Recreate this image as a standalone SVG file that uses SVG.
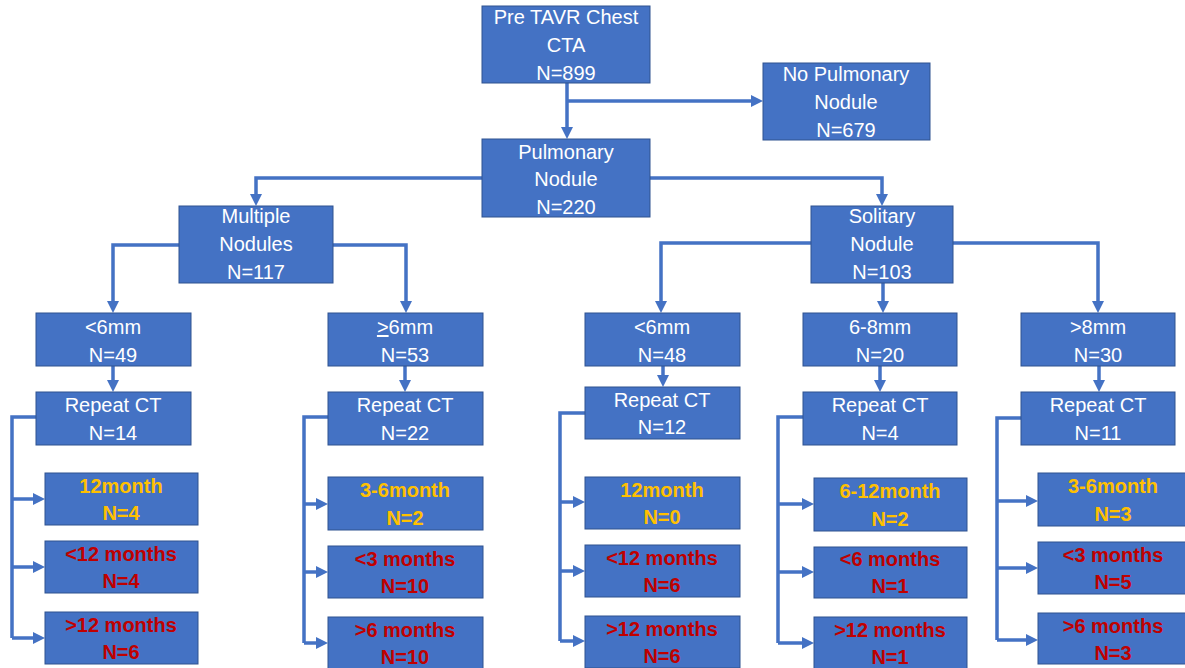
<svg xmlns="http://www.w3.org/2000/svg" width="1185" height="668" viewBox="0 0 1185 668">
<style>
.box{fill:#4472C4;stroke:#2F528F;stroke-width:1}
.t{font-family:"Liberation Sans",Arial,sans-serif;font-size:20px;fill:#FFFFFF;text-anchor:middle}
.y{font-family:"Liberation Sans",Arial,sans-serif;font-size:20px;font-weight:bold;fill:#FFC000;text-anchor:middle}
.r{font-family:"Liberation Sans",Arial,sans-serif;font-size:20px;font-weight:bold;fill:#C00000;text-anchor:middle}
.c{fill:none;stroke:#4472C4;stroke-width:3.5}
.a{marker-end:url(#arr)}
</style>
<defs>
<marker id="arr" markerUnits="userSpaceOnUse" markerWidth="12" markerHeight="12" refX="6" refY="6" orient="auto">
<path d="M0,0 L12,6 L0,12 z" fill="#4472C4"/>
</marker>
</defs>
<rect width="1185" height="668" fill="#FFFFFF"/>

<g id="connectors">
<path class="c a" d="M567,83 V133"/>
<path class="c a" d="M567,101 H757"/>
<path class="c a" d="M482,178 H256 V200"/>
<path class="c a" d="M650,178 H882 V200"/>
<path class="c a" d="M179,245 H113 V307"/>
<path class="c a" d="M333,245 H406 V307"/>
<path class="c a" d="M811,243 H661 V307"/>
<path class="c a" d="M883,283 V307"/>
<path class="c a" d="M953,243 H1098 V307"/>
<path class="c a" d="M113,366 V386"/>
<path class="c a" d="M405,366 V386"/>
<path class="c a" d="M663,366 V381"/>
<path class="c a" d="M880,366 V386"/>
<path class="c a" d="M1099,366 V386"/>
<path class="c" d="M36,417 H12 V638"/>
<path class="c a" d="M12,499 H39"/>
<path class="c a" d="M12,567 H39"/>
<path class="c a" d="M12,638 H39"/>
<path class="c" d="M328,417 H304 V643"/>
<path class="c a" d="M304,504 H322"/>
<path class="c a" d="M304,572 H322"/>
<path class="c a" d="M304,643 H322"/>
<path class="c" d="M585,413 H560 V641"/>
<path class="c a" d="M560,502 H579"/>
<path class="c a" d="M560,571 H579"/>
<path class="c a" d="M560,641 H579"/>
<path class="c" d="M803,417 H778 V643"/>
<path class="c a" d="M778,504 H808"/>
<path class="c a" d="M778,572 H808"/>
<path class="c a" d="M778,643 H808"/>
<path class="c" d="M1021,418 H997 V640"/>
<path class="c a" d="M997,501 H1032"/>
<path class="c a" d="M997,568 H1032"/>
<path class="c a" d="M997,640 H1032"/>
</g>

<g id="n-pretavr"><rect class="box" x="482" y="6" width="168" height="77"/>
<text class="t" x="566" y="24">Pre TAVR Chest</text><text class="t" x="566" y="52">CTA</text><text class="t" x="566" y="80">N=899</text></g>
<g id="n-nopulm"><rect class="box" x="763" y="63" width="167" height="77"/>
<text class="t" x="846" y="81">No Pulmonary</text><text class="t" x="846" y="109">Nodule</text><text class="t" x="846" y="137">N=679</text></g>
<g id="n-pulm"><rect class="box" x="482" y="139" width="168" height="78"/>
<text class="t" x="566" y="159">Pulmonary</text><text class="t" x="566" y="186">Nodule</text><text class="t" x="566" y="214">N=220</text></g>
<g id="n-multiple"><rect class="box" x="179" y="206" width="154" height="77"/>
<text class="t" x="256" y="223">Multiple</text><text class="t" x="256" y="251">Nodules</text><text class="t" x="256" y="279">N=117</text></g>
<g id="n-solitary"><rect class="box" x="811" y="206" width="142" height="77"/>
<text class="t" x="882" y="223">Solitary</text><text class="t" x="882" y="251">Nodule</text><text class="t" x="882" y="279">N=103</text></g>

<g id="n-a1"><rect class="box" x="36" y="313" width="155" height="53"/>
<text class="t" x="113" y="334">&lt;6mm</text><text class="t" x="113" y="362">N=49</text></g>
<g id="n-a2"><rect class="box" x="36" y="392" width="155" height="53"/>
<text class="t" x="113" y="412">Repeat CT</text><text class="t" x="113" y="440">N=14</text></g>
<g id="n-a3"><rect class="box" x="45" y="473" width="153" height="52"/>
<text class="y" x="121" y="493">12month</text><text class="y" x="121" y="520">N=4</text></g>
<g id="n-a4"><rect class="box" x="45" y="541" width="153" height="52"/>
<text class="r" x="121" y="561">&lt;12 months</text><text class="r" x="121" y="588">N=4</text></g>
<g id="n-a5"><rect class="box" x="45" y="612" width="153" height="52"/>
<text class="r" x="121" y="632">&gt;12 months</text><text class="r" x="121" y="659">N=6</text></g>

<g id="n-b1"><rect class="box" x="328" y="313" width="155" height="53"/>
<text class="t" x="405" y="334"><tspan text-decoration="underline">&gt;</tspan>6mm</text><text class="t" x="405" y="362">N=53</text></g>
<g id="n-b2"><rect class="box" x="328" y="392" width="155" height="53"/>
<text class="t" x="405" y="412">Repeat CT</text><text class="t" x="405" y="440">N=22</text></g>
<g id="n-b3"><rect class="box" x="328" y="477" width="155" height="53"/>
<text class="y" x="405" y="497">3-6month</text><text class="y" x="405" y="525">N=2</text></g>
<g id="n-b4"><rect class="box" x="328" y="546" width="155" height="52"/>
<text class="r" x="405" y="566">&lt;3 months</text><text class="r" x="405" y="593">N=10</text></g>
<g id="n-b5"><rect class="box" x="328" y="617" width="155" height="52"/>
<text class="r" x="405" y="637">&gt;6 months</text><text class="r" x="405" y="664">N=10</text></g>

<g id="n-c1"><rect class="box" x="585" y="313" width="155" height="53"/>
<text class="t" x="662" y="334">&lt;6mm</text><text class="t" x="662" y="362">N=48</text></g>
<g id="n-c2"><rect class="box" x="585" y="387" width="155" height="52"/>
<text class="t" x="662" y="407">Repeat CT</text><text class="t" x="662" y="434">N=12</text></g>
<g id="n-c3"><rect class="box" x="585" y="477" width="155" height="52"/>
<text class="y" x="662" y="497">12month</text><text class="y" x="662" y="524">N=0</text></g>
<g id="n-c4"><rect class="box" x="585" y="545" width="155" height="52"/>
<text class="r" x="662" y="565">&lt;12 months</text><text class="r" x="662" y="592">N=6</text></g>
<g id="n-c5"><rect class="box" x="585" y="616" width="155" height="52"/>
<text class="r" x="662" y="636">&gt;12 months</text><text class="r" x="662" y="663">N=6</text></g>

<g id="n-d1"><rect class="box" x="803" y="313" width="154" height="53"/>
<text class="t" x="880" y="334">6-8mm</text><text class="t" x="880" y="362">N=20</text></g>
<g id="n-d2"><rect class="box" x="803" y="392" width="154" height="53"/>
<text class="t" x="880" y="412">Repeat CT</text><text class="t" x="880" y="440">N=4</text></g>
<g id="n-d3"><rect class="box" x="814" y="478" width="153" height="53"/>
<text class="y" x="890" y="498">6-12month</text><text class="y" x="890" y="526">N=2</text></g>
<g id="n-d4"><rect class="box" x="814" y="547" width="153" height="51"/>
<text class="r" x="890" y="566">&lt;6 months</text><text class="r" x="890" y="593">N=1</text></g>
<g id="n-d5"><rect class="box" x="814" y="617" width="153" height="52"/>
<text class="r" x="890" y="637">&gt;12 months</text><text class="r" x="890" y="664">N=1</text></g>

<g id="n-e1"><rect class="box" x="1021" y="313" width="154" height="53"/>
<text class="t" x="1098" y="334">&gt;8mm</text><text class="t" x="1098" y="362">N=30</text></g>
<g id="n-e2"><rect class="box" x="1021" y="392" width="154" height="53"/>
<text class="t" x="1098" y="412">Repeat CT</text><text class="t" x="1098" y="440">N=11</text></g>
<g id="n-e3"><rect class="box" x="1038" y="473" width="152" height="53"/>
<text class="y" x="1113" y="493">3-6month</text><text class="y" x="1113" y="521">N=3</text></g>
<g id="n-e4"><rect class="box" x="1038" y="542" width="152" height="52"/>
<text class="r" x="1113" y="562">&lt;3 months</text><text class="r" x="1113" y="589">N=5</text></g>
<g id="n-e5"><rect class="box" x="1038" y="613" width="152" height="51"/>
<text class="r" x="1113" y="633">&gt;6 months</text><text class="r" x="1113" y="660">N=3</text></g>
</svg>
